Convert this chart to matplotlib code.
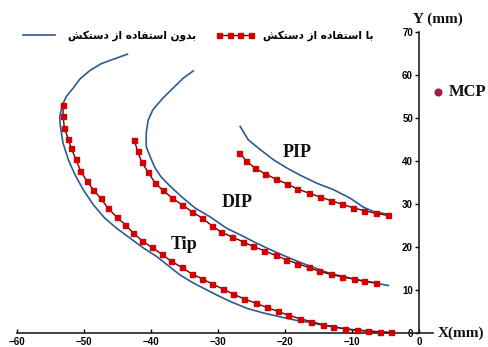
import numpy as np
import matplotlib
matplotlib.use("Agg")
import matplotlib.pyplot as plt
from matplotlib.lines import Line2D

# legend labels (Persian, logical order)
label_without = "بدون استفاده از دستکش"
label_with = "با استفاده از دستکش"

# Tip
tip_red_x = [-53.1, -53.1, -52.9, -52.3, -51.9, -51.2, -50.5, -49.6, -48.6, -47.5, -46.4, -45.1,
             -43.8, -42.6, -41.3, -39.9, -38.4, -37.0, -35.4, -33.9, -32.4, -30.9, -29.3, -27.7,
             -26.1, -24.4, -22.7, -21.1, -19.5, -17.8, -16.1, -14.4, -12.8, -11.0, -9.3, -7.6,
             -5.8, -4.2]
tip_red_y = [53.0, 50.5, 47.6, 45.0, 43.0, 40.4, 37.7, 35.4, 33.3, 31.3, 29.0, 26.9,
             25.1, 23.2, 21.4, 19.9, 18.3, 16.7, 15.2, 13.7, 12.6, 11.4, 10.2, 9.0,
             7.9, 6.9, 5.9, 5.0, 4.1, 3.3, 2.6, 1.9, 1.4, 0.9, 0.6, 0.5,
             0.2, 0.1]
tip_blue_x = [-43.5, -45.1, -47.4, -49.1, -50.6, -51.6, -52.6, -53.2, -53.6, -53.5, -53.1, -52.3,
              -51.3, -50.1, -48.6, -46.9, -45.1, -43.1, -41.1, -39.1, -37.4, -35.7, -33.7, -31.7,
              -30.2, -28.2, -25.7, -23.2, -20.7, -18.3, -16.3, -14.8, -11.0, -7.3, -4.0]
tip_blue_y = [64.8, 63.9, 62.6, 61.0, 59.0, 56.9, 55.0, 53.0, 50.3, 48.0, 44.1, 40.2,
              36.7, 33.3, 29.8, 26.7, 24.3, 22.0, 19.7, 17.7, 15.6, 13.5, 11.6, 10.0,
              8.8, 7.3, 5.7, 4.6, 3.7, 2.9, 2.4, 1.9, 0.9, 0.3, 0.0]

# DIP
dip_red_x = [-42.5, -42.0, -41.4, -40.4, -39.4, -38.2, -36.8, -35.4, -33.9, -32.4, -30.9, -29.6,
             -27.9, -26.3, -24.8, -23.1, -21.4, -19.8, -18.2, -16.5, -14.9, -13.2, -11.5, -9.8,
             -8.2, -6.4]
dip_red_y = [44.9, 42.3, 39.8, 37.3, 34.9, 33.1, 31.3, 29.8, 28.2, 26.7, 24.9, 23.5,
             22.3, 21.2, 20.1, 19.1, 18.0, 17.0, 16.1, 15.2, 14.3, 13.6, 13.0, 12.5,
             12.0, 11.6]
dip_blue_x = [-33.7, -35.2, -36.7, -38.2, -39.7, -40.4, -40.7, -40.7, -40.1, -39.4, -38.5, -37.2,
              -35.4, -33.4, -31.2, -28.7, -26.7, -24.7, -22.7, -20.7, -17.8, -13.3, -8.8, -4.6]
dip_blue_y = [60.9, 59.2, 56.9, 54.6, 51.9, 49.5, 46.5, 43.3, 40.9, 38.4, 36.3, 34.2,
              31.6, 29.0, 27.0, 24.3, 22.8, 21.2, 19.7, 18.3, 16.4, 13.8, 12.2, 11.0]

# PIP
pip_red_x = [-26.8, -25.8, -24.5, -23.0, -21.3, -19.7, -18.2, -16.5, -14.8, -13.1, -11.5, -9.9,
             -8.2, -6.5, -4.7]
pip_red_y = [41.9, 40.0, 38.3, 37.0, 35.7, 34.6, 33.5, 32.5, 31.6, 30.7, 29.9, 29.1,
             28.4, 27.8, 27.3]
pip_blue_x = [-26.7, -25.5, -23.7, -21.7, -19.7, -17.8, -15.3, -12.8, -10.3, -8.3, -6.8, -4.8]
pip_blue_y = [48.0, 44.9, 42.6, 40.2, 38.3, 36.7, 34.8, 33.3, 31.3, 29.2, 28.2, 27.6]

mcp_x, mcp_y = 2.8, 56.0

xticks = [-60, -50, -40, -30, -20, -10, 0]
yticks = [0, 10, 20, 30, 40, 50, 60, 70]

# simple Persian shaping -> presentation forms (isolated, final, initial, medial)
FORMS = {
    "ا": ("\uFE8D", "\uFE8E", None, None),
    "د": ("\uFEA9", "\uFEAA", None, None),
    "و": ("\uFEED", "\uFEEE", None, None),
    "ز": ("\uFEAF", "\uFEB0", None, None),
    "ب": ("\uFE8F", "\uFE90", "\uFE91", "\uFE92"),
    "ن": ("\uFEE5", "\uFEE6", "\uFEE7", "\uFEE8"),
    "س": ("\uFEB1", "\uFEB2", "\uFEB3", "\uFEB4"),
    "ت": ("\uFE95", "\uFE96", "\uFE97", "\uFE98"),
    "ف": ("\uFED1", "\uFED2", "\uFED3", "\uFED4"),
    "ه": ("\uFEE9", "\uFEEA", "\uFEEB", "\uFEEC"),
    "ش": ("\uFEB5", "\uFEB6", "\uFEB7", "\uFEB8"),
    "ک": ("\uFB8E", "\uFB8F", "\uFB90", "\uFB91"),
}


def shape(text):
    out = []
    for i, c in enumerate(text):
        if c not in FORMS:
            out.append(c)
            continue
        iso, fin, ini, med = FORMS[c]
        prev = text[i - 1] if i > 0 else None
        nxt = text[i + 1] if i + 1 < len(text) else None
        jp = prev in FORMS and FORMS[prev][2] is not None
        jn = ini is not None and nxt in FORMS
        if jp and jn:
            out.append(med)
        elif jp:
            out.append(fin)
        elif jn:
            out.append(ini)
        else:
            out.append(iso)
    return "".join(reversed(out))


blue = "#2e5a94"
red = "#d40000"
dark = "#5a0a0a"

fig = plt.figure(figsize=(4.89, 3.47), dpi=100)
ax = fig.add_axes([0, 0, 1, 1])

def red_line(x, y):
    ax.plot(x, y, color=dark, lw=1.0, marker="s", ms=3.6, mfc=red, mec=red, zorder=3)

ax.plot(tip_blue_x, tip_blue_y, color=blue, lw=1.2, zorder=2)
ax.plot(dip_blue_x, dip_blue_y, color=blue, lw=1.2, zorder=2)
ax.plot(pip_blue_x, pip_blue_y, color=blue, lw=1.2, zorder=2)
red_line(tip_red_x, tip_red_y)
red_line(dip_red_x, dip_red_y)
red_line(pip_red_x, pip_red_y)

ax.plot([mcp_x], [mcp_y], marker="o", ms=5, mfc="#c8102e", mec="#6a2a7a", mew=0.8, ls="none")

serif = {"family": "Liberation Serif", "weight": "bold", "color": "#111111"}
ax.text(4.4, mcp_y, "MCP", fontsize=12, ha="left", va="center", fontdict=serif)
ax.text(-18.2, 42.0, "PIP", fontsize=13, ha="center", va="center", fontdict=serif)
ax.text(-27.2, 30.2, "DIP", fontsize=13, ha="center", va="center", fontdict=serif)
ax.text(-35.1, 20.5, "Tip", fontsize=13, ha="center", va="center", fontdict=serif)
ax.text(-1.0, 72.9, "Y (mm)", fontsize=11, ha="left", va="center", fontdict=serif)
ax.text(2.7, 0.0, "X(mm)", fontsize=11, ha="left", va="center", fontdict=serif)

ax.set_xlim(-62.5, 10.4)
ax.set_ylim(-3.3, 77.4)
ax.spines["top"].set_visible(False)
ax.spines["right"].set_visible(False)
ax.spines["bottom"].set_position(("data", 0))
ax.spines["left"].set_position(("data", 0))
ax.spines["bottom"].set_bounds(-60, 2.1)
ax.spines["left"].set_bounds(0, 70)
for s in ("bottom", "left"):
    ax.spines[s].set_linewidth(1.2)
    ax.spines[s].set_color("#222222")

ax.set_xticks(xticks)
ax.set_yticks(yticks)
ax.tick_params(axis="x", direction="in", length=3, width=1, pad=3, labelsize=7)
ax.tick_params(axis="y", direction="out", length=3, width=1, pad=1.5, labelsize=7)
for lab in ax.get_xticklabels() + ax.get_yticklabels():
    lab.set_family("Liberation Sans")
    lab.set_fontweight("bold")

handles = [
    Line2D([], [], color=blue, lw=1.2),
    Line2D([], [], color=dark, lw=1.0, marker="s", ms=3.6, mfc=red, mec=red),
]
leg = ax.legend(handles, [shape(label_without), shape(label_with)], ncol=2, frameon=False,
                loc="center left", bbox_to_anchor=(0.022, 0.898), handlelength=3.6,
                handletextpad=0.9, columnspacing=1.9, numpoints=4,
                prop={"family": ["DejaVu Sans"], "weight": "bold", "size": 7.6})

fig.savefig("out.png", dpi=100, facecolor="white")
